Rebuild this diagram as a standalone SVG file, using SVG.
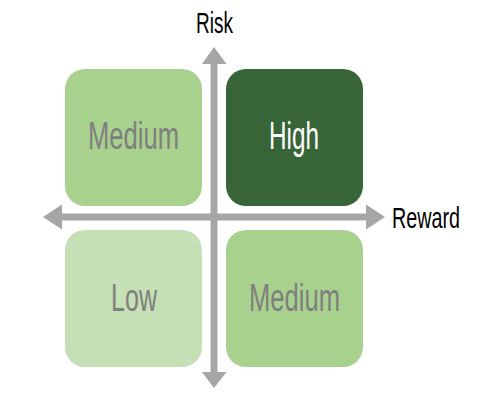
<svg xmlns="http://www.w3.org/2000/svg" width="480" height="410" viewBox="0 0 480 410">
<style>
.box{stroke:none}
.lbl{font-family:"Liberation Sans Narrow","Liberation Sans",Arial,sans-serif;text-anchor:middle}
.big{font-size:39px}
.gray{fill:#7f7f7f}
.axis{font-family:"Liberation Sans Narrow","Liberation Sans",Arial,sans-serif;font-size:29px;fill:#000}
.arrow{fill:#a6a6a6}
</style>
<rect width="480" height="410" fill="#ffffff"/>
<g id="q-medium-tl">
<rect class="box" x="65" y="69" width="137" height="137" rx="20" fill="#a9d18e"/>
<text class="lbl big gray" x="133.5" y="149" textLength="91" lengthAdjust="spacingAndGlyphs">Medium</text>
</g>
<g id="q-high">
<rect class="box" x="226" y="69" width="137" height="137" rx="20" fill="#376538"/>
<text class="lbl big" x="294" y="149" fill="#ffffff" textLength="50" lengthAdjust="spacingAndGlyphs">High</text>
</g>
<g id="q-low">
<rect class="box" x="65" y="230" width="137" height="137" rx="20" fill="#c5e0b4"/>
<text class="lbl big gray" x="134" y="311" textLength="46" lengthAdjust="spacingAndGlyphs">Low</text>
</g>
<g id="q-medium-br">
<rect class="box" x="226" y="230" width="137" height="137" rx="20" fill="#a9d18e"/>
<text class="lbl big gray" x="294.5" y="311" textLength="91" lengthAdjust="spacingAndGlyphs">Medium</text>
</g>
<g id="connectors">
<path class="arrow" d="M210.5,64 H202 L214,47 L226.5,64 H217.5 V372 H226.5 L214,388 L202,372 H210.5 Z"/>
<path class="arrow" d="M62,213.5 V204.5 L43,217 L62,229.5 V220.5 H366 V229.5 L385,217 L366,204.5 V213.5 Z"/>
</g>
<g id="axis-risk">
<text class="axis" x="214.5" y="33" text-anchor="middle" textLength="37" lengthAdjust="spacingAndGlyphs">Risk</text>
</g>
<g id="axis-reward">
<text class="axis" transform="translate(392,228) scale(0.72,1)" x="0" y="0" textLength="94.4" lengthAdjust="spacingAndGlyphs">Reward</text>
</g>
</svg>
